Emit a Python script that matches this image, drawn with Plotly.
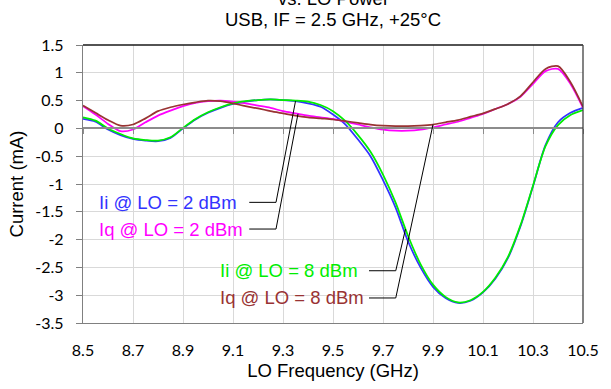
import numpy as np
import plotly.graph_objects as go

# ---------------- data ----------------
freq_ghz = [8.50, 8.55, 8.60, 8.65, 8.70, 8.75, 8.80, 8.85, 8.90, 8.95,
            9.00, 9.05, 9.10, 9.15, 9.20, 9.25, 9.30, 9.35, 9.40, 9.45,
            9.50, 9.55, 9.60, 9.65, 9.70, 9.75, 9.80, 9.85, 9.90, 9.95,
            10.00, 10.05, 10.10, 10.15, 10.20, 10.25, 10.30, 10.35, 10.40, 10.45, 10.50]

ii_lo2 = [0.17, 0.12, -0.02, -0.12, -0.19, -0.22, -0.23, -0.17, 0.00, 0.16,
          0.28, 0.37, 0.44, 0.48, 0.51, 0.52, 0.51, 0.49, 0.45, 0.39,
          0.25, 0.07, -0.20, -0.50, -0.93, -1.42, -2.03, -2.50, -2.85, -3.05,
          -3.14, -3.10, -2.95, -2.70, -2.33, -1.76, -1.04, -0.30, 0.11, 0.28, 0.37]

iq_lo2 = [0.40, 0.25, 0.08, -0.05, -0.02, 0.11, 0.23, 0.32, 0.40, 0.46,
          0.49, 0.50, 0.48, 0.45, 0.41, 0.37, 0.31, 0.27, 0.23, 0.20,
          0.17, 0.12, 0.07, 0.02, -0.02, -0.04, -0.04, -0.02, 0.02, 0.07,
          0.12, 0.19, 0.26, 0.35, 0.44, 0.57, 0.80, 1.03, 1.07, 0.80, 0.37]

ii_lo8 = [0.20, 0.14, 0.00, -0.10, -0.18, -0.21, -0.22, -0.16, 0.01, 0.17,
          0.29, 0.38, 0.45, 0.49, 0.51, 0.52, 0.51, 0.50, 0.48, 0.42,
          0.31, 0.13, -0.12, -0.42, -0.83, -1.33, -1.93, -2.44, -2.81, -3.03,
          -3.13, -3.09, -2.94, -2.68, -2.31, -1.74, -1.03, -0.32, 0.06, 0.24, 0.33]

iq_lo8 = [0.41, 0.28, 0.15, 0.05, 0.07, 0.18, 0.31, 0.38, 0.43, 0.47,
          0.50, 0.49, 0.45, 0.40, 0.36, 0.31, 0.27, 0.23, 0.20, 0.18,
          0.16, 0.13, 0.10, 0.07, 0.05, 0.04, 0.04, 0.05, 0.07, 0.11,
          0.15, 0.21, 0.27, 0.35, 0.44, 0.58, 0.83, 1.07, 1.12, 0.83, 0.39]

series_names = ["Ii @ LO = 2 dBm", "Iq @ LO = 2 dBm", "Ii @ LO = 8 dBm", "Iq @ LO = 8 dBm"]
series_values = [ii_lo2, iq_lo2, ii_lo8, iq_lo8]
series_colors = ["#3333FF", "#FF00FF", "#00EE00", "#993333"]

# callout: frequency on each curve the leader points to
callout_target_freq = [9.35, 9.36, 9.79, 9.90]

x_tick_vals = [8.5, 8.7, 8.9, 9.1, 9.3, 9.5, 9.7, 9.9, 10.1, 10.3, 10.5]
x_tick_text = ["8.5", "8.7", "8.9", "9.1", "9.3", "9.5", "9.7", "9.9", "10.1", "10.3", "10.5"]
y_tick_vals = [1.5, 1.0, 0.5, 0.0, -0.5, -1.0, -1.5, -2.0, -2.5, -3.0, -3.5]
y_tick_text = ["1.5", "1", "0.5", "0", "-0.5", "-1", "-1.5", "-2", "-2.5", "-3", "-3.5"]

# ---------------- figure ----------------
W, H = 611, 389
ML, MR, MT, MB = 83, 19, 45, 66
TXT = "Liberation Sans, Arial, sans-serif"
TICKF = "Lato, Carlito, Calibri, sans-serif"

fig = go.Figure()
draw_order = [0, 1, 2, 3]
for i in draw_order:
    fig.add_trace(go.Scatter(
        x=freq_ghz, y=series_values[i], mode="lines", name=series_names[i],
        line=dict(color=series_colors[i], width=1.75, shape="spline", smoothing=0.8),
        showlegend=False, hoverinfo="skip"))

# label placement (layout positions in axis units)
label_pos = [  # (text left x, text y, elbow start x, elbow x)
    (8.555, -1.33, 9.165, 9.272),
    (8.555, -1.81, 9.165, 9.272),
    (9.040, -2.56, 9.644, 9.751),
    (9.040, -3.05, 9.644, 9.751),
]
shapes = []
annotations = []
for i in range(4):
    tx, ty, ex0, ex1 = label_pos[i]
    annotations.append(dict(
        x=tx, y=ty, xref="x", yref="y", text=series_names[i], showarrow=False,
        xanchor="left", yanchor="middle",
        font=dict(family=TXT, size=18.5, color=series_colors[i])))
    fx = callout_target_freq[i]
    fy = float(np.interp(fx, freq_ghz, series_values[i]))
    shapes.append(dict(type="path", xref="x", yref="y",
                       path=f"M {ex0},{ty} L {ex1},{ty} L {fx},{fy}",
                       line=dict(color="#000000", width=1)))

# top and right borders
shapes.append(dict(type="line", xref="paper", yref="paper", x0=0, x1=1, y0=1, y1=1,
                   line=dict(color="#1a1a1a", width=1.3)))
shapes.append(dict(type="line", xref="paper", yref="paper", x0=1, x1=1, y0=0, y1=1,
                   line=dict(color="#404040", width=1.3)))

# titles (the first title line sits partly above the top edge, as in the reference)
annotations.append(dict(x=0.5, y=1, xref="paper", yref="paper", xanchor="center", yanchor="bottom",
                        yshift=MT - 11, text="vs. LO Power", showarrow=False,
                        font=dict(family=TXT, size=18.5, color="#000000")))
annotations.append(dict(x=0.5, y=1, xref="paper", yref="paper", xanchor="center", yanchor="bottom",
                        yshift=MT - 32, text="USB, IF = 2.5 GHz, +25°C", showarrow=False,
                        font=dict(family=TXT, size=18.5, color="#000000")))

y_range = [-3.5, 1.5]
zero_pos = (0 - y_range[0]) / (y_range[1] - y_range[0])

fig.update_layout(
    width=W, height=H,
    margin=dict(l=ML, r=MR, t=MT, b=MB, pad=0),
    paper_bgcolor="white", plot_bgcolor="white",
    shapes=shapes, annotations=annotations,
    xaxis=dict(range=[8.5, 10.5], tickvals=x_tick_vals, ticktext=x_tick_text,
               showgrid=True, gridcolor="#d9d9d9", gridwidth=1,
               showline=True, linecolor="#808080", linewidth=1.3,
               ticks="outside", ticklen=13, tickcolor="rgba(0,0,0,0)",
               tickfont=dict(family=TICKF, size=16, color="#000000"),
               title=dict(text="LO Frequency (GHz)", standoff=5,
                          font=dict(family=TXT, size=18.5, color="#000000")),
               zeroline=False, fixedrange=True),
    xaxis2=dict(range=[8.5, 10.5], tickvals=x_tick_vals, overlaying="x", anchor="free",
                position=zero_pos, side="bottom", showticklabels=False,
                ticks="outside", ticklen=5, tickcolor="#8c8c8c", tickwidth=1.3,
                showline=True, linecolor="#8c8c8c", linewidth=1.6,
                showgrid=False, zeroline=False, fixedrange=True),
    yaxis=dict(range=y_range, tickvals=y_tick_vals, ticktext=y_tick_text,
               showgrid=True, gridcolor="#d9d9d9", gridwidth=1,
               showline=True, linecolor="#808080", linewidth=1.3,
               ticks="outside", ticklen=6, tickcolor="#808080",
               tickfont=dict(family=TICKF, size=16, color="#000000"),
               ticklabelstandoff=9,
               title=dict(text="Current (mA)", standoff=6,
                          font=dict(family=TXT, size=18.5, color="#000000")),
               zeroline=False, fixedrange=True),
)
# dummy trace to activate xaxis2
fig.add_trace(go.Scatter(x=[None], y=[None], xaxis="x2", showlegend=False, hoverinfo="skip"))

fig.write_html("out.html", config={"displayModeBar": False})
